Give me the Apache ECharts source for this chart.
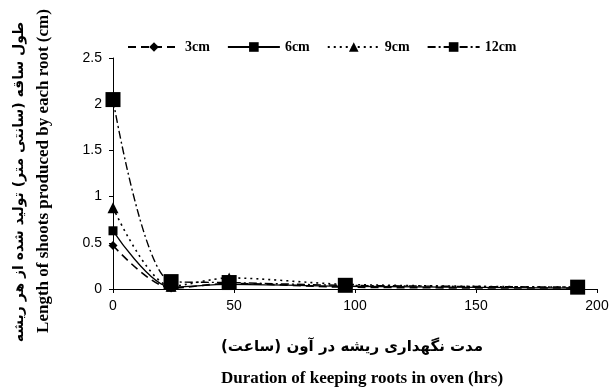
<!DOCTYPE html>
<html lang="en">
<head>
    <meta charset="UTF-8">
    <title>Shoot length</title>
    <script src="https://cdn.jsdelivr.net/npm/echarts@6/dist/echarts.min.js"></script>
    <style>
        body { margin: 0; background: #fff; }
    </style>
</head>
<body>
    <div id="main" style="width: 614px;height:388px;"></div>
    <script type="text/javascript">
        // hours in oven
        var hours = [0, 24, 48, 96, 192];
        var names = ['3cm', '6cm', '9cm', '12cm'];
        var len3 = [0.47, 0.01, 0.06, 0.02, 0.01];
        var len6 = [0.63, 0.02, 0.05, 0.03, 0.01];
        var len9 = [0.88, 0.03, 0.12, 0.05, 0.02];
        var len12 = [2.05, 0.08, 0.07, 0.04, 0.02];

        function pairs(v) {
            var out = [];
            for (var i = 0; i < hours.length; i++) {
                out.push([hours[i], v[i]]);
            }
            return out;
        }

        var myChart = echarts.init(document.getElementById('main'));

        var serif = '"Liberation Serif", "Times New Roman", serif';
        var sans = '"Liberation Sans", Arial, sans-serif';

        var option = {
            animation: false,
            backgroundColor: '#fff',
            grid: { left: 113, right: 17, top: 58, bottom: 99 },
            legend: {
                top: 35,
                left: 122,
                itemWidth: 52,
                itemHeight: 12,
                itemGap: 17,
                textStyle: { fontFamily: serif, fontWeight: 'bold', fontSize: 14, color: '#000' },
                data: names
            },
            xAxis: {
                type: 'value',
                min: 0,
                max: 200,
                interval: 50,
                axisLine: { lineStyle: { color: '#000', width: 1 } },
                axisTick: { show: true, length: 4, lineStyle: { color: '#000' } },
                axisLabel: { fontFamily: sans, fontSize: 14, color: '#000', margin: 10 },
                splitLine: { show: false }
            },
            yAxis: {
                type: 'value',
                min: 0,
                max: 2.5,
                interval: 0.5,
                axisLine: { show: true, lineStyle: { color: '#000', width: 1 } },
                axisTick: { show: true, length: 4, lineStyle: { color: '#000' } },
                axisLabel: { fontFamily: sans, fontSize: 14, color: '#000', margin: 11 },
                splitLine: { show: false }
            },
            graphic: [
                {
                    type: 'text', x: 352, y: 347,
                    style: { text: 'مدت نگهداری ریشه در آون (ساعت)', font: 'bold 15px "DejaVu Sans", sans-serif', fill: '#000', align: 'center', verticalAlign: 'middle' }
                },
                {
                    type: 'text', x: 362, y: 379,
                    style: { text: 'Duration of keeping roots in oven (hrs)', font: 'bold 17px ' + serif, fill: '#000', align: 'center', verticalAlign: 'middle' }
                },
                {
                    type: 'text', x: 44, y: 171, rotation: Math.PI / 2,
                    style: { text: 'Length of shoots produced by each root (cm)', font: 'bold 17px ' + serif, fill: '#000', align: 'center', verticalAlign: 'middle' }
                },
                {
                    type: 'text', x: 19, y: 182, rotation: Math.PI / 2,
                    style: { text: 'طول ساقه (سانتی متر) تولید شده از هر ریشه', font: 'bold 14px "DejaVu Sans", sans-serif', fill: '#000', align: 'center', verticalAlign: 'middle' }
                }
            ],
            series: [
                {
                    name: names[0], type: 'line', smooth: 0.3, data: pairs(len3),
                    symbol: 'diamond', symbolSize: 9,
                    lineStyle: { color: '#000', width: 1.6, type: [8, 5] },
                    itemStyle: { color: '#000' }
                },
                {
                    name: names[1], type: 'line', smooth: 0.3, data: pairs(len6),
                    symbol: 'rect', symbolSize: 9,
                    lineStyle: { color: '#000', width: 1.3, type: 'solid' },
                    itemStyle: { color: '#000' }
                },
                {
                    name: names[2], type: 'line', smooth: 0.3, data: pairs(len9),
                    symbol: 'triangle', symbolSize: 11,
                    lineStyle: { color: '#000', width: 1.6, type: [2, 4] },
                    itemStyle: { color: '#000' }
                },
                {
                    name: names[3], type: 'line', smooth: 0.3, data: pairs(len12),
                    symbol: 'rect', symbolSize: 15,
                    lineStyle: { color: '#000', width: 1.4, type: [8, 3, 2, 3] },
                    itemStyle: { color: '#000' }
                }
            ]
        };

        myChart.setOption(option);
    </script>
</body>
</html>
